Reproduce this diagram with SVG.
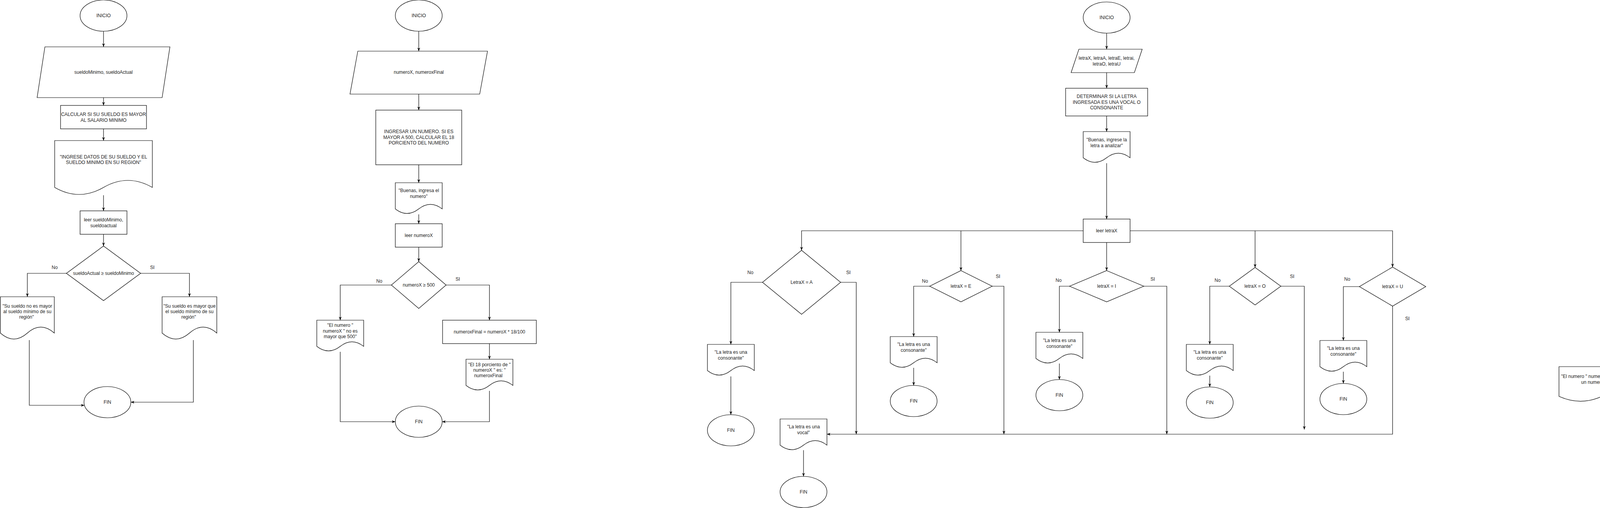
<svg xmlns="http://www.w3.org/2000/svg" width="6746" height="1301" viewBox="0 0 6746 1301">
<style>
.s{fill:#fff;stroke:#000;stroke-width:1.2}
.c{fill:none;stroke:#000;stroke-width:1.2}
.t{font-family:"Liberation Sans",Arial,Helvetica,sans-serif;font-size:12px;fill:#222;text-anchor:middle;dominant-baseline:central}
</style>
<defs>
<marker id="arr" viewBox="0 0 10 10" refX="10" refY="5" markerWidth="9" markerHeight="9" markerUnits="userSpaceOnUse" orient="auto"><path d="M0,1 L10,5 L0,9 L3,5 Z" fill="#000"/></marker>
</defs>
<rect width="6746" height="1301" fill="#fff"/>

<!-- ================= DIAGRAM 1 ================= -->
<g id="d1-inicio"><ellipse class="s" cx="265" cy="40" rx="60" ry="40"/><text class="t" x="265" y="40">INICIO</text></g>
<g id="d1-vars"><polygon class="s" points="115,120 435,120 415,250 95,250"/><text class="t" x="265" y="185">sueldoMinimo, sueldoActual</text></g>
<g id="d1-calc"><rect class="s" x="155" y="270" width="220" height="60"/><text class="t" x="265" y="292.5">CALCULAR SI SU SUELDO ES MAYOR</text><text class="t" x="265" y="307.5">AL SALARIO MINIMO</text></g>
<g id="d1-msg"><path class="s" d="M140,360 H390 V480 Q327.5,444 265,480 Q202.5,516 140,480 Z"/><text class="t" x="265" y="401.5">"INGRESE DATOS DE SU SUELDO Y EL</text><text class="t" x="265" y="416">SUELDO MINIMO EN SU REGION"</text></g>
<g id="d1-leer"><rect class="s" x="205" y="540" width="120" height="60"/><text class="t" x="265" y="563">leer sueldoMinimo,</text><text class="t" x="265" y="577.5">sueldoactual</text></g>
<g id="d1-dec"><polygon class="s" points="265,630 360,700 265,770 170,700"/><text class="t" x="265" y="700">sueldoActual ≥ sueldoMinimo</text></g>
<g id="d1-no"><path class="s" d="M1,760 H139 V853 Q104.5,822.4 70,853 Q35.5,883.6 1,853 Z"/><text class="t" x="70" y="784">"Su sueldo no es mayor</text><text class="t" x="70" y="798">al sueldo mínimo de su</text><text class="t" x="68" y="812">región"</text></g>
<g id="d1-si"><path class="s" d="M415,760 H555 V853 Q520,822.4 485,853 Q450,883.6 415,853 Z"/><text class="t" x="485" y="784">"Su sueldo es mayor que</text><text class="t" x="485" y="798">el sueldo mínimo de su</text><text class="t" x="483" y="812">región"</text></g>
<g id="d1-fin"><ellipse class="s" cx="275" cy="1030" rx="60" ry="40"/><text class="t" x="275" y="1030">FIN</text></g>

<!-- ================= DIAGRAM 2 ================= -->
<g id="d2-inicio"><ellipse class="s" cx="1072" cy="40" rx="60" ry="40"/><text class="t" x="1072" y="40">INICIO</text></g>
<g id="d2-vars"><polygon class="s" points="916,131 1248,131 1228,241 896,241"/><text class="t" x="1072" y="185">numeroX, numeroxFinal</text></g>
<g id="d2-desc"><rect class="s" x="962" y="282" width="220" height="140"/><text class="t" x="1072" y="337">INGRESAR UN NUMERO. SI ES</text><text class="t" x="1072" y="351.5">MAYOR A 500, CALCULAR EL 18</text><text class="t" x="1072" y="366">PORCIENTO DEL NUMERO</text></g>
<g id="d2-msg"><path class="s" d="M1012,468 H1132 V535 Q1102,511.6 1072,535 Q1042,558.4 1012,535 Z"/><text class="t" x="1072" y="488">"Buenas, ingresa el</text><text class="t" x="1072" y="503">numero"</text></g>
<g id="d2-leer"><rect class="s" x="1012" y="573" width="120" height="60"/><text class="t" x="1072" y="603">leer numeroX</text></g>
<g id="d2-dec"><polygon class="s" points="1072,670 1142,730 1072,790 1002,730"/><text class="t" x="1072" y="730">numeroX ≥ 500</text></g>
<g id="d2-no"><path class="s" d="M811,820 H931 V887 Q901,863.6 871,887 Q841,910.4 811,887 Z"/><text class="t" x="871" y="833">"El numero "</text><text class="t" x="871" y="847.5">numeroX " no es</text><text class="t" x="871" y="862">mayor que 500"</text></g>
<g id="d2-calc"><rect class="s" x="1133" y="820" width="240" height="60"/><text class="t" x="1253" y="850">numeroxFinal =  numeroX * 18/100</text></g>
<g id="d2-si"><path class="s" d="M1193,920 H1313 V987 Q1283,963.6 1253,987 Q1223,1010.4 1193,987 Z"/><text class="t" x="1253" y="934">"El 18 porciento de "</text><text class="t" x="1253" y="948">numeroX " es: "</text><text class="t" x="1250" y="962">numeroxFinal</text></g>
<g id="d2-fin"><ellipse class="s" cx="1072" cy="1080" rx="60" ry="40"/><text class="t" x="1072" y="1080">FIN</text></g>

<!-- ================= DIAGRAM 3 ================= -->
<g id="d3-inicio"><ellipse class="s" cx="2833" cy="45" rx="60" ry="40"/><text class="t" x="2833" y="45">INICIO</text></g>
<g id="d3-vars"><polygon class="s" points="2762,126 2924,126 2904,186 2742,186"/><text class="t" x="2833" y="149">letraX, letraA, letraE, letrai,</text><text class="t" x="2833" y="163.5">letraO, letraU</text></g>
<g id="d3-desc"><rect class="s" x="2728" y="226" width="210" height="71"/><text class="t" x="2833" y="247">DETERMINAR SI LA LETRA</text><text class="t" x="2833" y="261.5">INGRESADA ES UNA VOCAL O</text><text class="t" x="2833" y="276">CONSONANTE</text></g>
<g id="d3-msg"><path class="s" d="M2773,337 H2893 V404 Q2863,380.6 2833,404 Q2803,427.4 2773,404 Z"/><text class="t" x="2833" y="358">"Buenas, ingrese la</text><text class="t" x="2833" y="373">letra a analizar"</text></g>
<g id="d3-leer"><rect class="s" x="2773" y="561" width="120" height="60"/><text class="t" x="2833" y="591">leer letraX</text></g>
<g id="d3-decA"><polygon class="s" points="2052,641 2152,723 2052,805 1952,723"/><text class="t" x="2052" y="723">LetraX = A</text></g>
<g id="d3-noA"><path class="s" d="M1811,882 H1931 V949 Q1901,925.6 1871,949 Q1841,972.4 1811,949 Z"/><text class="t" x="1871" y="902">"La letra es una</text><text class="t" x="1871" y="917">consonante"</text></g>
<g id="d3-finA"><ellipse class="s" cx="1871" cy="1102" rx="60" ry="40"/><text class="t" x="1871" y="1102">FIN</text></g>
<g id="d3-vocal"><path class="s" d="M1997,1073 H2117 V1140 Q2087,1116.6 2057,1140 Q2027,1163.4 1997,1140 Z"/><text class="t" x="2057" y="1093">"La letra es una</text><text class="t" x="2057" y="1108">vocal"</text></g>
<g id="d3-finV"><ellipse class="s" cx="2057" cy="1260" rx="60" ry="40"/><text class="t" x="2057" y="1260">FIN</text></g>
<g id="d3-decE"><polygon class="s" points="2460,693 2540,733 2460,773 2380,733"/><text class="t" x="2460" y="733">letraX = E</text></g>
<g id="d3-noE"><path class="s" d="M2279,862 H2399 V929 Q2369,905.6 2339,929 Q2309,952.4 2279,929 Z"/><text class="t" x="2339" y="882">"La letra es una</text><text class="t" x="2339" y="897">consonante"</text></g>
<g id="d3-finE"><ellipse class="s" cx="2339" cy="1027" rx="60" ry="40"/><text class="t" x="2339" y="1027">FIN</text></g>
<g id="d3-decI"><polygon class="s" points="2833,693 2928,733 2833,773 2738,733"/><text class="t" x="2833" y="733">letraX = I</text></g>
<g id="d3-noI"><path class="s" d="M2652,851 H2772 V918 Q2742,894.6 2712,918 Q2682,941.4 2652,918 Z"/><text class="t" x="2712" y="872">"La letra es una</text><text class="t" x="2712" y="887">consonante"</text></g>
<g id="d3-finI"><ellipse class="s" cx="2712" cy="1012" rx="60" ry="40"/><text class="t" x="2712" y="1012">FIN</text></g>
<g id="d3-decO"><polygon class="s" points="3213,685 3279,733 3213,781 3147,733"/><text class="t" x="3213" y="733">letraX = O</text></g>
<g id="d3-noO"><path class="s" d="M3037,882 H3157 V949 Q3127,925.6 3097,949 Q3067,972.4 3037,949 Z"/><text class="t" x="3097" y="902">"La letra es una</text><text class="t" x="3097" y="917">consonante"</text></g>
<g id="d3-finO"><ellipse class="s" cx="3097" cy="1031" rx="60" ry="40"/><text class="t" x="3097" y="1031">FIN</text></g>
<g id="d3-decU"><polygon class="s" points="3565,684 3650,734 3565,784 3480,734"/><text class="t" x="3565" y="734">letraX = U</text></g>
<g id="d3-noU"><path class="s" d="M3379,872 H3499 V939 Q3469,915.6 3439,939 Q3409,962.4 3379,939 Z"/><text class="t" x="3439" y="892">"La letra es una</text><text class="t" x="3439" y="907">consonante"</text></g>
<g id="d3-finU"><ellipse class="s" cx="3439" cy="1022" rx="60" ry="40"/><text class="t" x="3439" y="1022">FIN</text></g>

<!-- ================= DIAGRAM 4 ================= -->
<g id="d4-inicio"><ellipse class="s" cx="4330" cy="55" rx="60" ry="40"/><text class="t" x="4330" y="55">INICIO</text></g>
<g id="d4-vars"><polygon class="s" points="4235,136 4445,136 4425,211 4215,211"/><text class="t" x="4330" y="167">numeroTresdigitos, primerDigito,</text><text class="t" x="4330" y="181">ultimoDigito</text></g>
<g id="d4-desc"><rect class="s" x="4235" y="246" width="190" height="101"/><text class="t" x="4330" y="288">DETERMINAR SI EL NUMERO</text><text class="t" x="4330" y="303">INGRESADO ES CAPICUA</text></g>
<g id="d4-msg"><path class="s" d="M4270,377 H4390 V444 Q4360,420.6 4330,444 Q4300,467.4 4270,444 Z"/><text class="t" x="4330" y="389">"Buenas, ingrese un</text><text class="t" x="4330" y="404">numero de tres</text><text class="t" x="4330" y="419">dígitos"</text></g>
<g id="d4-leer"><rect class="s" x="4270" y="487" width="120" height="60"/><text class="t" x="4330" y="510">leer</text><text class="t" x="4330" y="525">numeroTresdigitos</text></g>
<g id="d4-calc"><rect class="s" x="4190" y="583" width="280" height="150"/><text class="t" x="4330" y="643">primerDigito &lt;- truncar * numeroTresdigitos / 100</text><text class="t" x="4330" y="672">ultimoDigito &lt;- numeroTresdigitos mod 10</text></g>
<g id="d4-dec"><polygon class="s" points="4330,768 4431,833 4330,898 4229,833"/><text class="t" x="4330" y="833">primerDigito = ultimoDigito</text></g>
<g id="d4-no"><path class="s" d="M3991,939 H4211 V1015 Q4156,989.8 4101,1015 Q4046,1040.2 3991,1015 Z"/><text class="t" x="4101" y="964">"El numero "  numeroTresdigitos "  no es</text><text class="t" x="4101" y="979">un numero capicuo"</text></g>
<g id="d4-si"><path class="s" d="M4447,939 H4667 V1015 Q4612,989.8 4557,1015 Q4502,1040.2 4447,1015 Z"/><text class="t" x="4557" y="964">"El numero "  numeroTresdigitos " es un</text><text class="t" x="4557" y="979">numero capicuo"</text></g>
<g id="d4-fin"><ellipse class="s" cx="4330" cy="1151" rx="60" ry="40"/><text class="t" x="4330" y="1151">FIN</text></g>

<!-- ================= DIAGRAM 5 ================= -->
<g id="d5-inicio"><ellipse class="s" cx="5933" cy="41" rx="60" ry="40"/><text class="t" x="5933" y="41">INICIO</text></g>
<g id="d5-vars"><polygon class="s" points="5772,121 6113,121 6093,211 5752,211"/><text class="t" x="5933" y="166">diaX, lunes, martes, miercoles, jueves, viernes</text></g>
<g id="d5-desc"><rect class="s" x="5798" y="251" width="270" height="90"/><text class="t" x="5933" y="289">DETERMINAR SI EL DIA INGRESADO ES UN</text><text class="t" x="5933" y="304">DIA LABORAL O NO</text></g>
<g id="d5-msg"><path class="s" d="M5873,372 H5993 V439 Q5963,415.6 5933,439 Q5903,462.4 5873,439 Z"/><text class="t" x="5933" y="392.5">"Buenas, ingrese el</text><text class="t" x="5933" y="407.5">dia a analizar"</text></g>
<g id="d5-leer"><rect class="s" x="5873" y="511" width="120" height="60"/><text class="t" x="5933" y="541">leer diaX</text></g>
<g id="d5-decLunes"><polygon class="s" points="5151,592 5251,674 5151,756 5051,674"/><text class="t" x="5151" y="674">diaX = lunes</text></g>
<g id="d5-noLunes"><path class="s" d="M4911,832 H5031 V899 Q5001,875.6 4971,899 Q4941,922.4 4911,899 Z"/><text class="t" x="4971" y="853">"El dia " diaX " no es</text><text class="t" x="4971" y="868">un dia laboral"</text></g>
<g id="d5-finLunes"><ellipse class="s" cx="4971" cy="1053" rx="60" ry="40"/><text class="t" x="4971" y="1053">FIN</text></g>
<g id="d5-laboral"><path class="s" d="M5097,1023 H5217 V1090 Q5187,1066.6 5157,1090 Q5127,1113.4 5097,1090 Z"/><text class="t" x="5157" y="1044">"El dia " diaX " es un</text><text class="t" x="5157" y="1059">dia laboral"</text></g>
<g id="d5-finLaboral"><ellipse class="s" cx="5157" cy="1215" rx="60" ry="40"/><text class="t" x="5157" y="1215">FIN</text></g>
<g id="d5-decMartes"><polygon class="s" points="5559,644 5639,684 5559,724 5479,684"/><text class="t" x="5559" y="684">diaX = martes</text></g>
<g id="d5-noMartes"><path class="s" d="M5378,812 H5498 V879 Q5468,855.6 5438,879 Q5408,902.4 5378,879 Z"/><text class="t" x="5438" y="833">"El dia " diaX " no es</text><text class="t" x="5438" y="848">un dia laboral"</text></g>
<g id="d5-finMartes"><ellipse class="s" cx="5438" cy="977" rx="60" ry="40"/><text class="t" x="5438" y="977">FIN</text></g>
<g id="d5-decMiercoles"><polygon class="s" points="5933,644 6028,684 5933,724 5838,684"/><text class="t" x="5933" y="684">diaX = miercoles</text></g>
<g id="d5-noMiercoles"><path class="s" d="M5756,802 H5876 V869 Q5846,845.6 5816,869 Q5786,892.4 5756,869 Z"/><text class="t" x="5816" y="823">"El dia " diaX " no es</text><text class="t" x="5816" y="838">un dia laboral"</text></g>
<g id="d5-finMiercoles"><ellipse class="s" cx="5816" cy="962" rx="60" ry="40"/><text class="t" x="5816" y="962">FIN</text></g>
<g id="d5-decJueves"><polygon class="s" points="6313,636 6378,684 6313,732 6248,684"/><text class="t" x="6313" y="684">diax = jueves</text></g>
<g id="d5-noJueves"><path class="s" d="M6137,832 H6257 V899 Q6227,875.6 6197,899 Q6167,922.4 6137,899 Z"/><text class="t" x="6197" y="853">"El dia " diaX " no es</text><text class="t" x="6197" y="868">un dia laboral"</text></g>
<g id="d5-finJueves"><ellipse class="s" cx="6197" cy="983" rx="60" ry="40"/><text class="t" x="6197" y="983">FIN</text></g>
<g id="d5-decViernes"><polygon class="s" points="6664,634 6745,684 6664,734 6579,684"/><text class="t" x="6664" y="684">diaX = viernes</text></g>
<g id="d5-noViernes"><path class="s" d="M6479,823 H6599 V890 Q6569,866.6 6539,890 Q6509,913.4 6479,890 Z"/><text class="t" x="6539" y="843">"El dia " diaX " no es</text><text class="t" x="6539" y="858">un dia laboral"</text></g>
<g id="d5-finViernes"><ellipse class="s" cx="6539" cy="972" rx="60" ry="40"/><text class="t" x="6539" y="972">FIN</text></g>

<!-- ================= CONNECTORS ================= -->
<g id="connectors">
<!-- d1 -->
<path class="c" marker-end="url(#arr)" d="M265,80 V120"/>
<path class="c" marker-end="url(#arr)" d="M265,250 V270"/>
<path class="c" marker-end="url(#arr)" d="M265,330 V360"/>
<path class="c" marker-end="url(#arr)" d="M265,500 V540"/>
<path class="c" marker-end="url(#arr)" d="M265,600 V630"/>
<path class="c" marker-end="url(#arr)" d="M170,700 H70 V760"/>
<path class="c" marker-end="url(#arr)" d="M360,700 H485 V760"/>
<path class="c" marker-end="url(#arr)" d="M75,871 V1038 H216"/>
<path class="c" marker-end="url(#arr)" d="M495,871 V1030 H335"/>
<!-- d2 -->
<path class="c" marker-end="url(#arr)" d="M1072,80 V131"/>
<path class="c" marker-end="url(#arr)" d="M1072,241 V282"/>
<path class="c" marker-end="url(#arr)" d="M1072,422 V468"/>
<path class="c" marker-end="url(#arr)" d="M1072,549 V573"/>
<path class="c" marker-end="url(#arr)" d="M1072,633 V670"/>
<path class="c" marker-end="url(#arr)" d="M1002,730 H871 V820"/>
<path class="c" marker-end="url(#arr)" d="M1142,730 H1253 V820"/>
<path class="c" marker-end="url(#arr)" d="M1253,880 V920"/>
<path class="c" marker-end="url(#arr)" d="M871,901 V1080 H1012"/>
<path class="c" marker-end="url(#arr)" d="M1253,1001 V1080 H1132"/>
<!-- d3 -->
<path class="c" marker-end="url(#arr)" d="M2833,85 V126"/>
<path class="c" marker-end="url(#arr)" d="M2833,186 V226"/>
<path class="c" marker-end="url(#arr)" d="M2833,297 V337"/>
<path class="c" marker-end="url(#arr)" d="M2833,418 V561"/>
<path class="c" marker-end="url(#arr)" d="M2833,621 V693"/>
<path class="c" marker-end="url(#arr)" d="M2773,591 H2052 V641"/>
<path class="c" marker-end="url(#arr)" d="M2460,591 V693"/>
<path class="c" marker-end="url(#arr)" d="M2893,591 H3565 V684"/>
<path class="c" marker-end="url(#arr)" d="M3213,591 V685"/>
<path class="c" marker-end="url(#arr)" d="M1952,723 H1871 V882"/>
<path class="c" marker-end="url(#arr)" d="M1871,964 V1062"/>
<path class="c" marker-end="url(#arr)" d="M2152,723 H2192 V1112"/>
<path class="c" marker-end="url(#arr)" d="M2057,1153 V1220"/>
<path class="c" marker-end="url(#arr)" d="M2380,733 H2339 V862"/>
<path class="c" marker-end="url(#arr)" d="M2339,942 V987"/>
<path class="c" marker-end="url(#arr)" d="M2540,733 H2570 V1112"/>
<path class="c" marker-end="url(#arr)" d="M2738,733 H2712 V851"/>
<path class="c" marker-end="url(#arr)" d="M2712,931 V972"/>
<path class="c" marker-end="url(#arr)" d="M2928,733 H2987 V1112"/>
<path class="c" marker-end="url(#arr)" d="M3147,733 H3097 V882"/>
<path class="c" marker-end="url(#arr)" d="M3097,962 V991"/>
<path class="c" marker-end="url(#arr)" d="M3279,733 H3339 V1100"/>
<path class="c" marker-end="url(#arr)" d="M3480,734 H3439 V872"/>
<path class="c" marker-end="url(#arr)" d="M3439,952 V982"/>
<path class="c" marker-end="url(#arr)" d="M3565,784 V1112 H2117"/>
<!-- d4 -->
<path class="c" marker-end="url(#arr)" d="M4330,95 V136"/>
<path class="c" marker-end="url(#arr)" d="M4330,211 V246"/>
<path class="c" marker-end="url(#arr)" d="M4330,347 V377"/>
<path class="c" marker-end="url(#arr)" d="M4330,456 V487"/>
<path class="c" marker-end="url(#arr)" d="M4330,547 V583"/>
<path class="c" marker-end="url(#arr)" d="M4330,733 V768"/>
<path class="c" marker-end="url(#arr)" d="M4229,833 H4101 V939"/>
<path class="c" marker-end="url(#arr)" d="M4431,833 H4557 V939"/>
<path class="c" marker-end="url(#arr)" d="M4101,1031 V1151 H4270"/>
<path class="c" marker-end="url(#arr)" d="M4564,1031 V1151 H4390"/>
<!-- d5 -->
<path class="c" marker-end="url(#arr)" d="M5933,81 V121"/>
<path class="c" marker-end="url(#arr)" d="M5933,211 V251"/>
<path class="c" marker-end="url(#arr)" d="M5933,341 V372"/>
<path class="c" marker-end="url(#arr)" d="M5933,452 V511"/>
<path class="c" marker-end="url(#arr)" d="M5933,571 V644"/>
<path class="c" marker-end="url(#arr)" d="M5873,541 H5151 V592"/>
<path class="c" marker-end="url(#arr)" d="M5559,541 V644"/>
<path class="c" marker-end="url(#arr)" d="M5993,541 H6664 V634"/>
<path class="c" marker-end="url(#arr)" d="M6313,541 V636"/>
<path class="c" marker-end="url(#arr)" d="M5051,674 H4971 V832"/>
<path class="c" marker-end="url(#arr)" d="M4971,913 V1013"/>
<path class="c" marker-end="url(#arr)" d="M5251,674 H5337 V1064"/>
<path class="c" marker-end="url(#arr)" d="M5157,1104 V1175"/>
<path class="c" marker-end="url(#arr)" d="M5479,684 H5438 V812"/>
<path class="c" marker-end="url(#arr)" d="M5438,893 V937"/>
<path class="c" marker-end="url(#arr)" d="M5639,684 H5669 V1064"/>
<path class="c" marker-end="url(#arr)" d="M5838,684 H5816 V802"/>
<path class="c" marker-end="url(#arr)" d="M5816,883 V922"/>
<path class="c" marker-end="url(#arr)" d="M6028,684 H6086 V1064"/>
<path class="c" marker-end="url(#arr)" d="M6248,684 H6197 V832"/>
<path class="c" marker-end="url(#arr)" d="M6197,913 V943"/>
<path class="c" marker-end="url(#arr)" d="M6378,684 H6438 V1052"/>
<path class="c" marker-end="url(#arr)" d="M6579,684 H6539 V823"/>
<path class="c" marker-end="url(#arr)" d="M6539,904 V932"/>
<path class="c" marker-end="url(#arr)" d="M6664,734 V1064 H5217"/>
</g>

<!-- ================= EDGE LABELS ================= -->
<g id="labels">
<text class="t" x="140" y="685">No</text><text class="t" x="390" y="685">SI</text>
<text class="t" x="971" y="720">No</text><text class="t" x="1172" y="715">SI</text>
<text class="t" x="1921" y="698">No</text><text class="t" x="2172" y="698">SI</text>
<text class="t" x="2368" y="720">No</text><text class="t" x="2555" y="708">SI</text>
<text class="t" x="2710" y="718">No</text><text class="t" x="2951" y="715">SI</text>
<text class="t" x="3117" y="718">No</text><text class="t" x="3308" y="708">SI</text>
<text class="t" x="3449" y="715">No</text><text class="t" x="3603" y="816">SI</text>
<text class="t" x="4200" y="823">No</text><text class="t" x="4460" y="823">SI</text>
<text class="t" x="5020" y="651">No</text><text class="t" x="5282" y="649">Si</text>
<text class="t" x="5468" y="659">No</text><text class="t" x="5664" y="659">Si</text>
<text class="t" x="5825" y="659">No</text><text class="t" x="6071" y="658">Si</text>
<text class="t" x="6216" y="658">No</text><text class="t" x="6408" y="668">Si</text>
<text class="t" x="6557" y="656">No</text><text class="t" x="6694" y="771">Si</text>
<text class="t" x="5981" y="1214">Si</text>
</g>
</svg>
